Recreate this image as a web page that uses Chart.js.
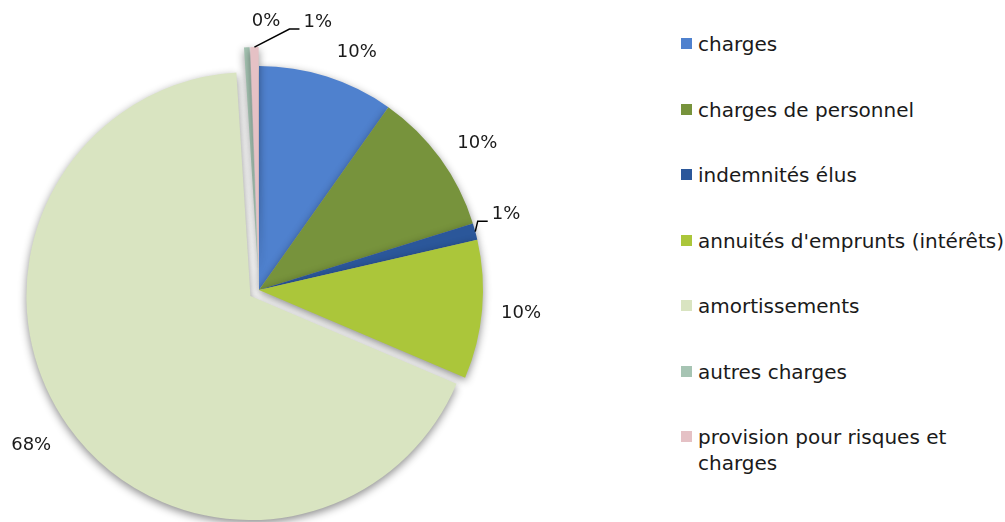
<!DOCTYPE html>
<html>
<head>
<meta charset="utf-8">
<script src="https://cdn.jsdelivr.net/npm/chart.js@4"></script>
<style>
  html, body { margin: 0; padding: 0; background: #fff; width: 1005px; height: 522px; overflow: hidden; }
  #wrap { position: relative; width: 1005px; height: 522px; }
  #pie { position: absolute; left: 0; top: 0; }
  .leg { position: absolute; left: 681px; width: 325px; font-family: "DejaVu Sans", sans-serif; font-size: 20px; line-height: 26px; color: #1a1a1a; }
  .leg .sw { position: absolute; left: 0; top: 7px; width: 11px; height: 11px; }
  .leg .tx { margin-left: 17px; }
</style>
</head>
<body>
<div id="wrap">
  <canvas id="pie" width="600" height="522"></canvas>
  <div id="legend"></div>
</div>
<script>
// ---- data ----
const categories = [
  "charges",
  "charges de personnel",
  "indemnités élus",
  "annuités d'emprunts (intérêts)",
  "amortissements",
  "autres charges",
  "provision pour risques et charges"
];
const values = [9.8, 10.4, 1.2, 10.0, 67.6, 0.4, 0.6];
const percentLabels = ["10%", "10%", "1%", "10%", "68%", "0%", "1%"];

// ---- styles ----
const colors = ["#4F81CE", "#77933C", "#2B579A", "#ABC63A", "#D9E4C1", "#A6C4B3", "#E5C1C5"];
const explodePx = [0, 0, 0, 0, 10.5, 19, 19];
const labelNudge = [[19, 10], [8, 6], [-4, -8], [3, 0], [-7, -1], [21, 10], [64, 11]];
const leader = [false, false, true, false, false, false, true];

const explodePlugin = {
  id: 'explodeSlices',
  afterDatasetUpdate(chart, args) {
    const meta = chart.getDatasetMeta(args.index);
    meta.data.forEach((arc, i) => {
      const e = explodePx[i] || 0;
      if (!e) return;
      const half = (arc.startAngle + arc.endAngle) / 2;
      arc.x += Math.cos(half) * e;
      arc.y += Math.sin(half) * e;
    });
  }
};

const labelPlugin = {
  id: 'pctLabels',
  beforeDatasetsDraw(chart) {
    const ctx = chart.ctx;
    ctx.save();
    ctx.shadowColor = 'rgba(0,0,0,0.45)';
    ctx.shadowBlur = 8;
    ctx.shadowOffsetX = 0;
    ctx.shadowOffsetY = 3;
  },
  afterDatasetsDraw(chart) {
    const ctx = chart.ctx;
    ctx.restore();
    const meta = chart.getDatasetMeta(0);
    ctx.save();
    ctx.font = '18px "DejaVu Sans", sans-serif';
    ctx.fillStyle = '#1a1a1a';
    ctx.textAlign = 'center';
    ctx.textBaseline = 'middle';
    meta.data.forEach((arc, i) => {
      const p = arc.getProps(['x', 'y', 'startAngle', 'endAngle', 'outerRadius'], true);
      const half = (p.startAngle + p.endAngle) / 2;
      const d = p.outerRadius + 36;
      const lx = p.x + Math.cos(half) * d + labelNudge[i][0];
      const ly = p.y + Math.sin(half) * d + labelNudge[i][1];
      const txt = percentLabels[i];
      ctx.fillText(txt, lx, ly);
      if (leader[i]) {
        const w = ctx.measureText(txt).width;
        const left = lx - w / 2;
        const ex = p.x + Math.cos(half) * p.outerRadius;
        const ey = p.y + Math.sin(half) * p.outerRadius;
        ctx.beginPath();
        ctx.strokeStyle = '#000';
        ctx.lineWidth = 1.5;
        ctx.moveTo(ex, ey);
        ctx.lineTo(left - 14, ly + 7);
        ctx.lineTo(left - 4, ly + 7);
        ctx.stroke();
      }
    });
    ctx.restore();
  }
};

new Chart(document.getElementById('pie'), {
  type: 'pie',
  data: {
    labels: categories,
    datasets: [{
      data: values,
      backgroundColor: colors,
      borderWidth: 0
    }]
  },
  options: {
    responsive: false,
    animation: false,
    devicePixelRatio: 1,
    radius: 224,
    layout: { padding: { left: 0, right: 82, top: 58, bottom: 0 } },
    plugins: { legend: { display: false }, tooltip: { enabled: false } }
  },
  plugins: [explodePlugin, labelPlugin]
});

// ---- legend (HTML text) ----
const legendEl = document.getElementById('legend');
const legendTop = 44, legendStep = 65.5;
categories.forEach((c, i) => {
  const item = document.createElement('div');
  item.className = 'leg';
  item.style.top = (legendTop + i * legendStep - 13) + 'px';
  const sw = document.createElement('span');
  sw.className = 'sw';
  sw.style.background = colors[i];
  const tx = document.createElement('div');
  tx.className = 'tx';
  tx.textContent = c;
  item.appendChild(sw);
  item.appendChild(tx);
  legendEl.appendChild(item);
});
</script>
</body>
</html>
